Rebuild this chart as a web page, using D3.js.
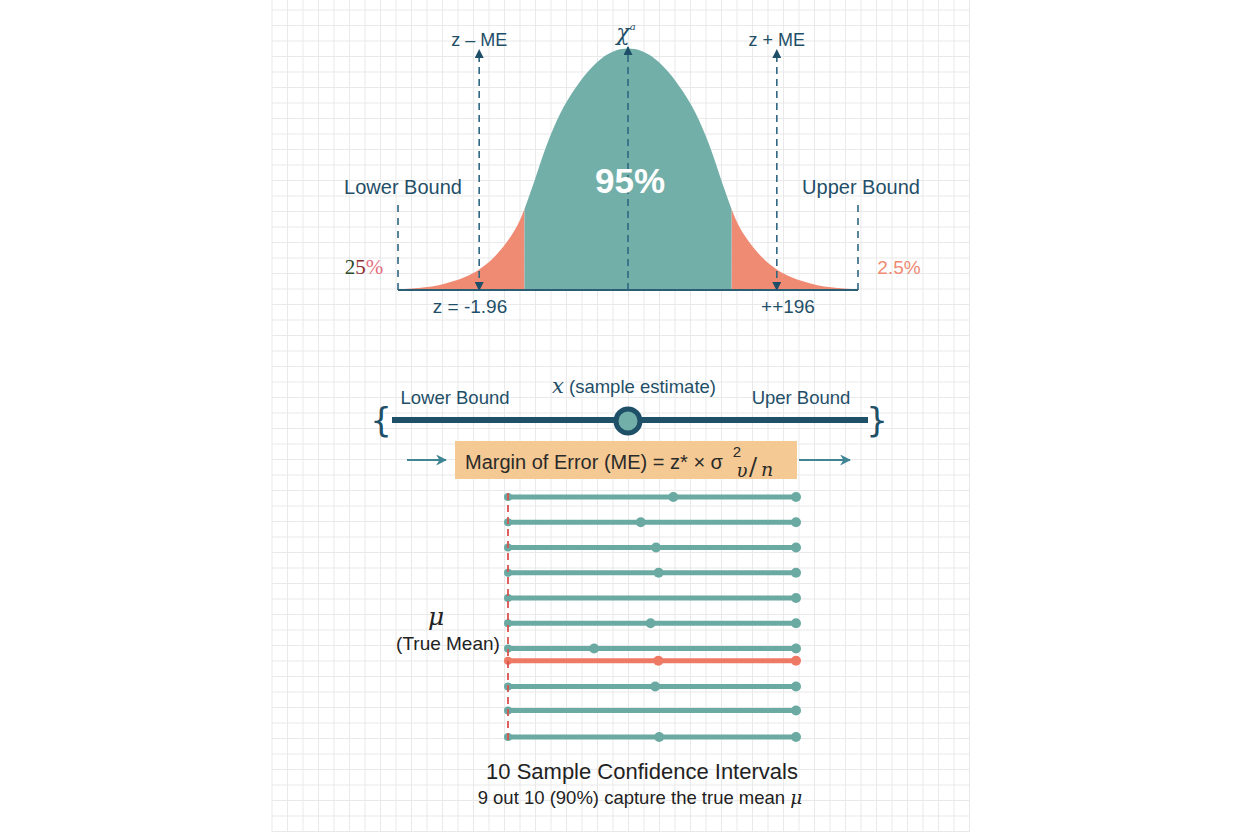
<!DOCTYPE html>
<html><head><meta charset="utf-8">
<script src="https://cdn.jsdelivr.net/npm/d3@7"></script>
<style>body{margin:0;background:#fff}svg{display:block}</style>
</head><body><svg id="c" width="1248" height="832"></svg>
<script>
// ---- data ----
const curveZ = [-3.4,-3.2,-3.0,-2.8,-2.6,-2.4,-2.2,-2.0,-1.8,-1.6,-1.4,-1.2,-1.0,-0.8,-0.6,-0.4,-0.2,0,0.2,0.4,0.6,0.8,1.0,1.2,1.4,1.6,1.8,2.0,2.2,2.4,2.6,2.8,3.0,3.2,3.4];
const curveDensity = [0.0012,0.0024,0.0044,0.008,0.014,0.022,0.034,0.052,0.078,0.115,0.175,0.240,0.292,0.330,0.360,0.382,0.395,0.399,0.395,0.382,0.360,0.330,0.292,0.240,0.175,0.115,0.078,0.052,0.034,0.022,0.014,0.008,0.0044,0.0024,0.0012];
const centralBounds = [-1.53, 1.53];
const meArrows = [-2.2, 2.2];
const boundLines = [-3.4, 3.4];
const topLabels = ["z \u2013 ME", "z + ME"];
const zLabels = ["z = -1.96", "++196"];
const centralShare = "95%";
const tailShares = ["25%", "2.5%"];
// sample intervals (0 = true mean position, 1 = upper end)
const intervalLower = [0,0,0,0,0,0,0,0,0,0,0];
const intervalUpper = [1,1,1,1,1,1,1,1,1,1,1];
const intervalEstimate = [0.574,0.461,0.514,0.523,null,0.495,0.299,0.522,0.511,null,0.525];
const intervalRow = [0,1,2,3,4,5,6,6.48,7.5,8.45,9.5];
const intervalMisses = [false,false,false,false,false,false,false,true,false,false,false];

const svg = d3.select("#c");
const FONT = "'Liberation Sans', Arial, sans-serif";
const DARK = "#1f4f68";
const TEAL = "#73afa9";
const SALMON = "#ef8a73";

// ---- background grid ----
const g0 = svg.append("g");
const gx0 = 272, gx1 = 970, step = 15.5;
d3.range(gx0, gx1 + 1, step).forEach(x => g0.append("line").attr("x1", x).attr("x2", x).attr("y1", 0).attr("y2", 832).attr("stroke", "#e9e9e9").attr("stroke-width", 1));
d3.range(10, 832, step).forEach(y => g0.append("line").attr("x1", gx0).attr("x2", gx1).attr("y1", y).attr("y2", y).attr("stroke", "#e9e9e9").attr("stroke-width", 1));

// markers
const defs = svg.append("defs");
defs.append("marker").attr("id", "ah").attr("viewBox", "0 0 10 10").attr("refX", 9).attr("refY", 5)
  .attr("markerWidth", 10).attr("markerHeight", 9).attr("orient", "auto-start-reverse").attr("markerUnits", "userSpaceOnUse")
  .append("path").attr("d", "M0,0L10,5L0,10z").attr("fill", DARK);
defs.append("marker").attr("id", "ah2").attr("viewBox", "0 0 10 10").attr("refX", 9).attr("refY", 5)
  .attr("markerWidth", 11).attr("markerHeight", 11).attr("orient", "auto").attr("markerUnits", "userSpaceOnUse")
  .append("path").attr("d", "M0,0L10,5L0,10L3,5z").attr("fill", "#3f8593");

// ---- top normal curve ----
const xT = d3.scaleLinear().domain([-3.4, 3.4]).range([398, 858]);
const yT = d3.scaleLinear().domain([0, 0.4]).range([290, 48]);
const pts = curveZ.map((z, i) => [z, curveDensity[i]]);
const area = d3.area().x(d => xT(d[0])).y0(yT(0)).y1(d => yT(d[1])).curve(d3.curveMonotoneX);

const clipL = defs.append("clipPath").attr("id", "cl");
clipL.append("rect").attr("x", xT(-3.4)).attr("y", 0).attr("width", xT(centralBounds[0]) - xT(-3.4)).attr("height", 300);
const clipC = defs.append("clipPath").attr("id", "cc");
clipC.append("rect").attr("x", xT(centralBounds[0])).attr("y", 0).attr("width", xT(centralBounds[1]) - xT(centralBounds[0])).attr("height", 300);
const clipR = defs.append("clipPath").attr("id", "cr");
clipR.append("rect").attr("x", xT(centralBounds[1])).attr("y", 0).attr("width", xT(3.4) - xT(centralBounds[1])).attr("height", 300);

svg.append("path").datum(pts).attr("d", area).attr("fill", SALMON).attr("clip-path", "url(#cl)");
svg.append("path").datum(pts).attr("d", area).attr("fill", SALMON).attr("clip-path", "url(#cr)");
svg.append("path").datum(pts).attr("d", area).attr("fill", TEAL).attr("clip-path", "url(#cc)");

// baseline
svg.append("line").attr("x1", xT(-3.4)).attr("x2", xT(3.4)).attr("y1", yT(0)).attr("y2", yT(0)).attr("stroke", "#2b5d73").attr("stroke-width", 1.8);

// bound dashed lines
boundLines.forEach(z => svg.append("line").attr("x1", xT(z)).attr("x2", xT(z)).attr("y1", 205).attr("y2", yT(0))
  .attr("stroke", "#2f6680").attr("stroke-width", 1.6).attr("stroke-dasharray", "7,6"));

// ME arrows (both ends)
meArrows.forEach(z => svg.append("line").attr("x1", xT(z)).attr("x2", xT(z)).attr("y1", yT(0)).attr("y2", 50)
  .attr("stroke", "#2f6680").attr("stroke-width", 1.6).attr("stroke-dasharray", "7,5")
  .attr("marker-end", "url(#ah)").attr("marker-start", "url(#ah)"));
// center arrow
svg.append("line").attr("x1", xT(0)).attr("x2", xT(0)).attr("y1", yT(0)).attr("y2", 47)
  .attr("stroke", "#2f6680").attr("stroke-width", 1.6).attr("stroke-dasharray", "7,5").attr("marker-end", "url(#ah)");

// top labels
topLabels.forEach((t, i) => svg.append("text").attr("x", xT(meArrows[i])).attr("y", 46).attr("text-anchor", "middle")
  .attr("font-family", FONT).attr("font-size", 18).attr("fill", DARK).text(t));
const chi = svg.append("text").attr("x", xT(0) - 2).attr("y", 40).attr("text-anchor", "middle")
  .attr("font-family", "'DejaVu Serif', serif").attr("font-style", "italic").attr("font-size", 22).attr("fill", DARK);
chi.append("tspan").text("\u03c7");
chi.append("tspan").attr("dy", -10).attr("font-size", 10).text("a");

svg.append("text").attr("x", xT(0) + 2).attr("y", 193).attr("text-anchor", "middle").attr("font-family", FONT)
  .attr("font-weight", "bold").attr("font-size", 35).attr("fill", "#fff").text(centralShare);

svg.append("text").attr("x", 403).attr("y", 194).attr("text-anchor", "middle").attr("font-family", FONT)
  .attr("font-size", 20).attr("fill", DARK).text("Lower Bound");
svg.append("text").attr("x", 861).attr("y", 194).attr("text-anchor", "middle").attr("font-family", FONT)
  .attr("font-size", 20).attr("fill", DARK).text("Upper Bound");

const t25 = svg.append("text").attr("x", 364).attr("y", 274).attr("text-anchor", "middle")
  .attr("font-family", "'Liberation Serif', serif").attr("font-size", 21);
t25.append("tspan").attr("fill", "#2a4a2a").text(tailShares[0][0]);
t25.append("tspan").attr("fill", "#8e2d2d").text(tailShares[0][1]);
t25.append("tspan").attr("fill", "#e5707e").text(tailShares[0].slice(2));
svg.append("text").attr("x", 899).attr("y", 274).attr("text-anchor", "middle").attr("font-family", FONT)
  .attr("font-size", 19).attr("fill", SALMON).text(tailShares[1]);

zLabels.forEach((t, i) => svg.append("text").attr("x", i === 0 ? 470 : 788).attr("y", 313).attr("text-anchor", "middle")
  .attr("font-family", FONT).attr("font-size", 19).attr("fill", DARK).text(t));

// ---- middle: interval bracket ----
svg.append("line").attr("x1", 392).attr("x2", 868).attr("y1", 420).attr("y2", 420).attr("stroke", "#1e5068").attr("stroke-width", 6);
svg.append("circle").attr("cx", 628).attr("cy", 421).attr("r", 12).attr("fill", TEAL).attr("stroke", "#1e5068").attr("stroke-width", 5);
svg.append("text").attr("x", 381).attr("y", 432).attr("text-anchor", "middle").attr("font-family", "'DejaVu Sans', sans-serif")
  .attr("font-size", 34).attr("fill", "#1e5068").text("{");
svg.append("text").attr("x", 877).attr("y", 432).attr("text-anchor", "middle").attr("font-family", "'DejaVu Sans', sans-serif")
  .attr("font-size", 34).attr("fill", "#1e5068").text("}");
svg.append("text").attr("x", 455).attr("y", 404).attr("text-anchor", "middle").attr("font-family", FONT)
  .attr("font-size", 18.5).attr("fill", DARK).text("Lower Bound");
svg.append("text").attr("x", 801).attr("y", 404).attr("text-anchor", "middle").attr("font-family", FONT)
  .attr("font-size", 18.5).attr("fill", DARK).text("Uper Bound");
const se = svg.append("text").attr("x", 634).attr("y", 393).attr("text-anchor", "middle").attr("font-family", FONT)
  .attr("font-size", 18.5).attr("fill", DARK);
se.append("tspan").attr("font-family", "'DejaVu Serif', serif").attr("font-style", "italic").attr("font-size", 21).text("x");
se.append("tspan").text(" (sample estimate)");

// formula box
svg.append("rect").attr("x", 455).attr("y", 441).attr("width", 342).attr("height", 38).attr("fill", "#f5c993");
svg.append("text").attr("x", 465).attr("y", 469).attr("font-family", FONT).attr("font-size", 20).attr("fill", "#2a2a2a")
  .text("Margin of Error (ME) = z* \u00d7 \u03c3");
svg.append("text").attr("x", 737).attr("y", 457).attr("text-anchor", "middle").attr("font-family", FONT).attr("font-size", 15).attr("fill", "#2a2a2a").text("2");
svg.append("text").attr("x", 742).attr("y", 477).attr("text-anchor", "middle").attr("font-family", "'DejaVu Serif', serif").attr("font-style", "italic").attr("font-size", 18).attr("fill", "#2a2a2a").text("\u03c5");
svg.append("text").attr("x", 749).attr("y", 475).attr("font-family", "'DejaVu Serif', serif").attr("font-size", 24).attr("fill", "#2a2a2a").text("/");
svg.append("text").attr("x", 761).attr("y", 476).attr("font-family", "'DejaVu Serif', serif").attr("font-style", "italic").attr("font-size", 19).attr("fill", "#2a2a2a").text("n");
svg.append("line").attr("x1", 407).attr("x2", 446).attr("y1", 460).attr("y2", 460).attr("stroke", "#3f8593").attr("stroke-width", 2.2).attr("marker-end", "url(#ah2)");
svg.append("line").attr("x1", 799).attr("x2", 850).attr("y1", 460).attr("y2", 460).attr("stroke", "#3f8593").attr("stroke-width", 2.2).attr("marker-end", "url(#ah2)");

// ---- intervals ----
const xI = d3.scaleLinear().domain([0, 1]).range([508, 796]);
const yI = d3.scaleLinear().domain([0, 9.5]).range([497, 737]);
const rows = intervalRow.map((r, i) => ({ r, lo: intervalLower[i], hi: intervalUpper[i], est: intervalEstimate[i], miss: intervalMisses[i] }));
const gI = svg.append("g");
rows.forEach(d => {
  const c = d.miss ? "#ee7a66" : "#6aaaa2";
  gI.append("line").attr("x1", xI(d.lo)).attr("x2", xI(d.hi)).attr("y1", yI(d.r)).attr("y2", yI(d.r))
    .attr("stroke", c).attr("stroke-width", 5).attr("stroke-linecap", "round");
  gI.append("circle").attr("cx", xI(d.lo)).attr("cy", yI(d.r)).attr("r", 4).attr("fill", c);
  gI.append("circle").attr("cx", xI(d.hi)).attr("cy", yI(d.r)).attr("r", 5).attr("fill", c);
  if (d.est !== null) gI.append("circle").attr("cx", xI(d.est)).attr("cy", yI(d.r)).attr("r", 5).attr("fill", c);
});
svg.append("line").attr("x1", xI(0)).attr("x2", xI(0)).attr("y1", 493).attr("y2", 745)
  .attr("stroke", "#d9534f").attr("stroke-width", 1.8).attr("stroke-dasharray", "7,5");

svg.append("text").attr("x", 436).attr("y", 625).attr("text-anchor", "middle").attr("font-family", "'DejaVu Serif', serif")
  .attr("font-style", "italic").attr("font-size", 25).attr("fill", "#222").text("\u03bc");
svg.append("text").attr("x", 448).attr("y", 650).attr("text-anchor", "middle").attr("font-family", FONT)
  .attr("font-size", 19).attr("fill", "#222").text("(True Mean)");

svg.append("text").attr("x", 642).attr("y", 779).attr("text-anchor", "middle").attr("font-family", FONT)
  .attr("font-size", 22).attr("fill", "#222").text("10 Sample Confidence Intervals");
const bt = svg.append("text").attr("x", 640).attr("y", 804).attr("text-anchor", "middle").attr("font-family", FONT)
  .attr("font-size", 18.5).attr("fill", "#222");
bt.append("tspan").text("9 out 10 (90%) capture the true mean ");
bt.append("tspan").attr("font-family", "'DejaVu Serif', serif").attr("font-style", "italic").text("\u03bc");
</script></body></html>
